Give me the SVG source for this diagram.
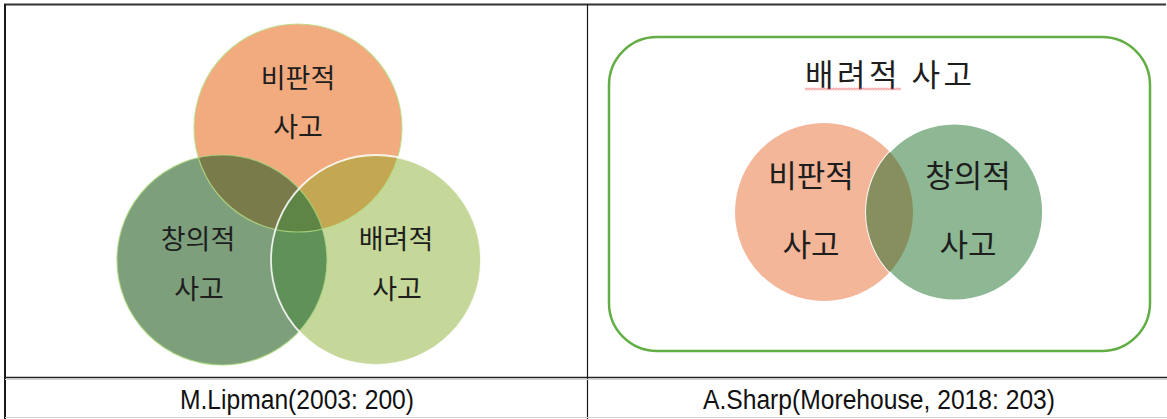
<svg xmlns="http://www.w3.org/2000/svg" width="1167" height="419" viewBox="0 0 1167 419">
<style>
.ko{font-family:"Noto Sans CJK KR","Noto Sans",sans-serif;fill:#1e1e1e;text-anchor:middle}
.k1{font-size:27px}
.k2{font-size:31px}
.cap{font-family:"Liberation Sans",Arial,sans-serif;font-size:27px;fill:#111;text-anchor:middle}
.tbl{stroke:#1a1a1a;fill:none}
</style>
<defs>
<clipPath id="cO"><circle cx="298" cy="128" r="104"/></clipPath>
<clipPath id="cL"><circle cx="222" cy="260" r="105"/></clipPath>
<clipPath id="cR"><circle cx="376" cy="260" r="105"/></clipPath>
<clipPath id="cP"><circle cx="824" cy="212" r="89"/></clipPath>
<pattern id="wave" x="805" y="87.5" width="3" height="3" patternUnits="userSpaceOnUse">
<path d="M0 2.5 L1.5 0.5 L3 2.5" fill="none" stroke="#e8484a" stroke-width="0.9"/>
</pattern>
</defs>
<rect width="1167" height="419" fill="#fff"/>
<g id="table">
<line x1="4" y1="4.5" x2="1166" y2="4.5" stroke="#333" stroke-width="2"/>
<line x1="5" y1="4" x2="5" y2="419" class="tbl" stroke-width="2"/>
<line x1="587.5" y1="4" x2="587.5" y2="419" class="tbl" stroke-width="1.2"/>
<line x1="5" y1="377.5" x2="1167" y2="377.5" stroke="#222" stroke-width="1.5"/>
<line x1="5" y1="379.5" x2="1167" y2="379.5" stroke="#d4d4d4" stroke-width="1"/>
<line x1="5" y1="417.5" x2="1167" y2="417.5" stroke="#cfcfcf" stroke-width="1"/>
</g>
<g id="lipman-venn">
<g id="node-critical">
<circle cx="298" cy="128" r="104" fill="#f2ab7f"/>
</g>
<g id="node-creative">
<circle cx="222" cy="260" r="105" fill="#7d9f7b"/>
</g>
<g id="node-caring">
<circle cx="376" cy="260" r="105" fill="#c6d79a"/>
</g>
<g id="overlaps">
<circle cx="222" cy="260" r="105" fill="#7a7b4b" clip-path="url(#cO)"/>
<circle cx="376" cy="260" r="105" fill="#c3a752" clip-path="url(#cO)"/>
<g clip-path="url(#cL)"><circle cx="376" cy="260" r="105" fill="#5f9159"/></g>
<g clip-path="url(#cL)"><circle cx="376" cy="260" r="105" fill="#5e8546" clip-path="url(#cO)"/></g>
</g>
<g id="outlines" fill="none">
<circle cx="298" cy="128" r="104" stroke="#b8df84" stroke-width="1.2" stroke-opacity="0.8"/>
<circle cx="222" cy="260" r="105" stroke="#a9d77a" stroke-width="1.2" stroke-opacity="0.8"/>
<circle cx="376" cy="260" r="105" stroke="#ffffff" stroke-width="1.8" stroke-opacity="0.85"/>
</g>
<text class="ko k1" x="298" y="88">비판적</text>
<text class="ko k1" x="298" y="137">사고</text>
<text class="ko k1" x="198" y="249">창의적</text>
<text class="ko k1" x="199" y="299">사고</text>
<text class="ko k1" x="396" y="249">배려적</text>
<text class="ko k1" x="397" y="299">사고</text>
</g>
<g id="sharp-venn">
<g id="node-caring-frame">
<rect x="609" y="37" width="541" height="314" rx="48" ry="48" fill="none" stroke="#62ae45" stroke-width="2.5"/>
<text class="ko" x="888.5" y="86" font-size="31" textLength="167" lengthAdjust="spacing">배려적 사고</text>
<rect x="805" y="87.5" width="96" height="3" fill="url(#wave)"/>
</g>
<g id="node-critical-2">
<circle cx="824" cy="212" r="89" fill="#f3b698"/>
<text class="ko k2" x="811" y="187">비판적</text>
<text class="ko k2" x="811" y="256">사고</text>
</g>
<g id="node-creative-2">
<circle cx="954.5" cy="212" r="88.5" fill="#8db893" stroke="#fff" stroke-width="1.8"/>
<circle cx="954.5" cy="212" r="88.5" fill="#878f5e" clip-path="url(#cP)"/>
<text class="ko k2" x="968" y="187">창의적</text>
<text class="ko k2" x="968" y="256">사고</text>
</g>
</g>
<g id="connectors"/>
<g id="captions">
<text class="cap" x="297" y="409" textLength="234" lengthAdjust="spacingAndGlyphs">M.Lipman(2003: 200)</text>
<text class="cap" x="879" y="409" textLength="352" lengthAdjust="spacingAndGlyphs">A.Sharp(Morehouse, 2018: 203)</text>
</g>
</svg>
